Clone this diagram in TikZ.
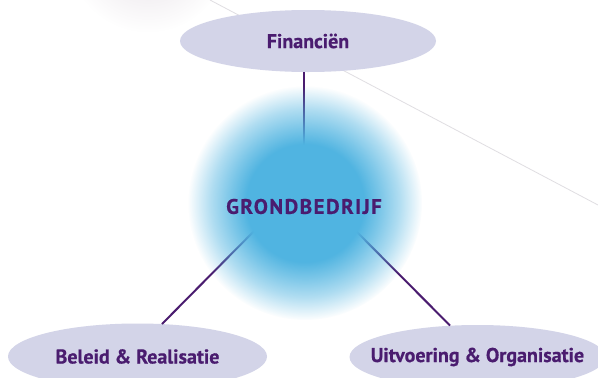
\documentclass[tikz,border=0pt]{standalone}
\usepackage{fontspec}
\setmainfont{PT Sans}
\usetikzlibrary{shapes.geometric,fadings}
\definecolor{grpurple}{HTML}{4A1C6F}
\definecolor{grlav}{HTML}{D3D4E8}
\definecolor{grblue}{HTML}{50B4E1}
\definecolor{grthin}{HTML}{E0DEE2}
\definecolor{grshadow}{HTML}{EEEAEE}
\pgfdeclareradialshading{glowsh}{\pgfpointorigin}{color(0bp)=(white); color(12.5bp)=(white); color(16bp)=(white!75!black); color(20bp)=(white!45!black); color(25bp)=(black); color(50bp)=(black)}
\pgfdeclarefading{glowfade}{\pgfuseshading{glowsh}}
\pgfdeclareradialshading{shadowsh}{\pgfpointorigin}{color(0bp)=(white); color(8bp)=(white); color(25bp)=(black); color(50bp)=(black)}
\pgfdeclarefading{shadowfade}{\pgfuseshading{shadowsh}}
\tikzset{
  oval/.style={ellipse, fill=grlav, inner sep=0pt, minimum width=256pt, minimum height=62pt,
    font=\fontsize{20}{23}\selectfont\bfseries\addfontfeature{FakeBold=0.6}, text=grpurple},
  link/.style={draw=grpurple, line width=2pt},
  thinline/.style={draw=grthin, line width=0.8pt},
  coretext/.style={font=\fontsize{21}{24}\selectfont\bfseries\addfontfeature{LetterSpace=7,FakeBold=0.6}, text=grpurple, inner sep=0pt}
}
\begin{document}
\begin{tikzpicture}[x=1pt,y=-1pt]
\useasboundingbox (0,0) rectangle (598,378);
\fill[white] (0,0) rectangle (598,378);
% faint shadow top left
\fill[grshadow, path fading=shadowfade] (148,-48) circle (80);
% thin gray line
\coordinate (t1) at (210,0);
\coordinate (t2) at (598,205);
\draw[thinline] (t1) -- (t2);
% ovals
\node[oval] (fin) at (308,41) {\makebox[0pt]{Financiën}};
\node[oval, minimum width=259pt, minimum height=66pt] (bel) at (137.5,356.5) {\makebox[0pt]{Beleid \& Realisatie}};
\node[oval, minimum width=256pt, minimum height=64pt] (uit) at (477.5,357) {\makebox[0pt]{Uitvoering \& Organisatie}};
% connector ends inside the glow
\coordinate (cTop) at (304,165);
\coordinate (cLeft) at (262,223);
\coordinate (cRight) at (348,223);
\coordinate (bTop) at (162,324);
\coordinate (uTop) at (450,325.5);
\draw[link] (fin.south -| cTop) -- (cTop);
\draw[link] (cLeft) -- (bTop);
\draw[link] (cRight) -- (uTop);
% glow
\fill[grblue, path fading=glowfade] (305,203) circle (117);
\node[coretext] (core) at (304,206.5) {GRONDBEDRIJF};
\end{tikzpicture}
\end{document}
